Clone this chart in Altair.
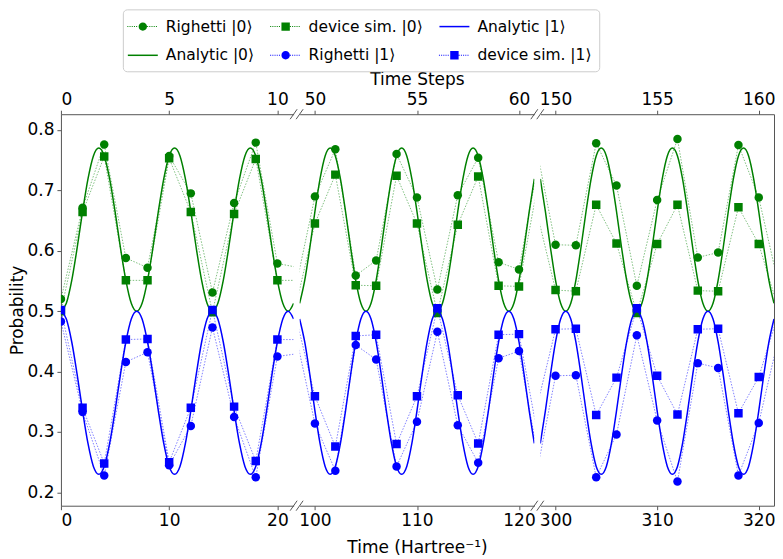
import altair as alt
import numpy as np
import pandas as pd

GREEN = "#008000"
BLUE = "#0000ff"
SPINE = "#555555"
TEXT = "#000000"
FONT = "DejaVu Sans"

NAMES = ["Righetti |0⟩", "Analytic |0⟩", "device sim. |0⟩",
         "Righetti |1⟩", "Analytic |1⟩", "device sim. |1⟩"]
COLORS = {"Righetti |0⟩": GREEN, "Analytic |0⟩": GREEN, "device sim. |0⟩": GREEN,
          "Righetti |1⟩": BLUE, "Analytic |1⟩": BLUE, "device sim. |1⟩": BLUE}
MARKERS = {"Righetti |0⟩": "circle", "device sim. |0⟩": "square",
           "Righetti |1⟩": "circle", "device sim. |1⟩": "square"}

Y_DOMAIN = [0.178, 0.826]
Y_TICKS = [0.2, 0.3, 0.4, 0.5, 0.6, 0.7, 0.8]
TIME_DOMAINS = [[0, 21.5], [98.5, 121.5], [298.5, 321.5]]
STEP_DOMAINS = [[0, 10.75], [49.25, 60.75], [149.25, 160.75]]
TIME_TICKS = [[0, 10, 20], [100, 110, 120], [300, 310, 320]]
STEP_TICKS = [[0, 5, 10], [50, 55, 60], [150, 155, 160]]
PANEL_WIDTHS = [233, 235, 234]

# ---- measured points (time in Hartree^-1) ----
T_P1 = [0, 2, 4, 6, 8, 10, 12, 14, 16, 18, 20, 22]
R0_P1 = [0.520, 0.671, 0.776, 0.588, 0.572, 0.757, 0.695, 0.531, 0.679, 0.779, 0.579, 0.572]
D0_P1 = [0.500, 0.664, 0.756, 0.551, 0.551, 0.753, 0.664, 0.498, 0.661, 0.752, 0.551, 0.551]
R1_P1 = [0.483, 0.333, 0.228, 0.416, 0.432, 0.245, 0.310, 0.473, 0.325, 0.225, 0.425, 0.430]
D1_P1 = [0.502, 0.340, 0.248, 0.453, 0.454, 0.250, 0.340, 0.502, 0.342, 0.252, 0.453, 0.453]

T_P2 = [98, 100, 102, 104, 106, 108, 110, 112, 114, 116, 118, 120, 122]
R0_P2 = [0.530, 0.690, 0.768, 0.559, 0.584, 0.760, 0.688, 0.536, 0.692, 0.754, 0.581, 0.569, 0.757]
D0_P2 = [0.500, 0.645, 0.726, 0.543, 0.542, 0.724, 0.645, 0.497, 0.643, 0.723, 0.542, 0.541, 0.724]
R1_P2 = [0.470, 0.314, 0.236, 0.444, 0.420, 0.243, 0.317, 0.466, 0.311, 0.249, 0.422, 0.434, 0.245]
D1_P2 = [0.500, 0.359, 0.276, 0.459, 0.461, 0.280, 0.359, 0.505, 0.361, 0.281, 0.461, 0.462, 0.280]

T_P3 = [298, 300, 302, 304, 306, 308, 310, 312, 314, 316, 318, 320, 322]
R0_P3 = [0.780, 0.610, 0.609, 0.778, 0.708, 0.542, 0.684, 0.785, 0.589, 0.597, 0.775, 0.688, 0.540]
D0_P3 = [0.675, 0.535, 0.533, 0.676, 0.612, 0.497, 0.611, 0.676, 0.534, 0.533, 0.672, 0.611, 0.500]
R1_P3 = [0.220, 0.393, 0.394, 0.225, 0.296, 0.460, 0.319, 0.218, 0.414, 0.406, 0.228, 0.315, 0.460]
D1_P3 = [0.330, 0.470, 0.471, 0.328, 0.390, 0.505, 0.393, 0.329, 0.470, 0.471, 0.331, 0.391, 0.500]

# ---- analytic curves, read every 0.5 time units ----
ANA_T_P1 = list(np.arange(0, 21.75, 0.5))
A0_P1 = [0.500, 0.513, 0.551, 0.605, 0.665, 0.719, 0.757, 0.770, 0.757, 0.719, 0.665, 0.605, 0.551, 0.513,
         0.500, 0.513, 0.551, 0.605, 0.665, 0.719, 0.757, 0.770, 0.757, 0.719, 0.665, 0.605, 0.551, 0.513,
         0.500, 0.513, 0.551, 0.605, 0.665, 0.719, 0.757, 0.770, 0.757, 0.719, 0.665, 0.605, 0.551, 0.513,
         0.500, 0.513]
A1_P1 = [0.500, 0.487, 0.449, 0.395, 0.335, 0.281, 0.243, 0.230, 0.243, 0.281, 0.335, 0.395, 0.449, 0.487,
         0.500, 0.487, 0.449, 0.395, 0.335, 0.281, 0.243, 0.230, 0.243, 0.281, 0.335, 0.395, 0.449, 0.487,
         0.500, 0.487, 0.449, 0.395, 0.335, 0.281, 0.243, 0.230, 0.243, 0.281, 0.335, 0.395, 0.449, 0.487,
         0.500, 0.487]

ANA_T_P2 = list(np.arange(98.5, 121.75, 0.5))
A0_P2 = [0.513, 0.551, 0.605, 0.665, 0.719, 0.757, 0.770, 0.757, 0.719, 0.665, 0.605, 0.551, 0.513,
         0.500, 0.513, 0.551, 0.605, 0.665, 0.719, 0.757, 0.770, 0.757, 0.719, 0.665, 0.605, 0.551, 0.513,
         0.500, 0.513, 0.551, 0.605, 0.665, 0.719, 0.757, 0.770, 0.757, 0.719, 0.665, 0.605, 0.551, 0.513,
         0.500, 0.513, 0.551, 0.605, 0.665, 0.719]
A1_P2 = [0.487, 0.449, 0.395, 0.335, 0.281, 0.243, 0.230, 0.243, 0.281, 0.335, 0.395, 0.449, 0.487,
         0.500, 0.487, 0.449, 0.395, 0.335, 0.281, 0.243, 0.230, 0.243, 0.281, 0.335, 0.395, 0.449, 0.487,
         0.500, 0.487, 0.449, 0.395, 0.335, 0.281, 0.243, 0.230, 0.243, 0.281, 0.335, 0.395, 0.449, 0.487,
         0.500, 0.487, 0.449, 0.395, 0.335, 0.281]

ANA_T_P3 = list(np.arange(298.5, 321.75, 0.5))
A0_P3 = [0.719, 0.665, 0.605, 0.551, 0.513,
         0.500, 0.513, 0.551, 0.605, 0.665, 0.719, 0.757, 0.770, 0.757, 0.719, 0.665, 0.605, 0.551, 0.513,
         0.500, 0.513, 0.551, 0.605, 0.665, 0.719, 0.757, 0.770, 0.757, 0.719, 0.665, 0.605, 0.551, 0.513,
         0.500, 0.513, 0.551, 0.605, 0.665, 0.719, 0.757, 0.770, 0.757, 0.719, 0.665, 0.605, 0.551, 0.513]
A1_P3 = [0.281, 0.335, 0.395, 0.449, 0.487,
         0.500, 0.487, 0.449, 0.395, 0.335, 0.281, 0.243, 0.230, 0.243, 0.281, 0.335, 0.395, 0.449, 0.487,
         0.500, 0.487, 0.449, 0.395, 0.335, 0.281, 0.243, 0.230, 0.243, 0.281, 0.335, 0.395, 0.449, 0.487,
         0.500, 0.487, 0.449, 0.395, 0.335, 0.281, 0.243, 0.230, 0.243, 0.281, 0.335, 0.395, 0.449, 0.487]

PANELS = [
    dict(t=T_P1, pts={"Righetti |0⟩": R0_P1, "device sim. |0⟩": D0_P1,
                      "Righetti |1⟩": R1_P1, "device sim. |1⟩": D1_P1},
         at=ANA_T_P1, ana={"Analytic |0⟩": A0_P1, "Analytic |1⟩": A1_P1}),
    dict(t=T_P2, pts={"Righetti |0⟩": R0_P2, "device sim. |0⟩": D0_P2,
                      "Righetti |1⟩": R1_P2, "device sim. |1⟩": D1_P2},
         at=ANA_T_P2, ana={"Analytic |0⟩": A0_P2, "Analytic |1⟩": A1_P2}),
    dict(t=T_P3, pts={"Righetti |0⟩": R0_P3, "device sim. |0⟩": D0_P3,
                      "Righetti |1⟩": R1_P3, "device sim. |1⟩": D1_P3},
         at=ANA_T_P3, ana={"Analytic |0⟩": A0_P3, "Analytic |1⟩": A1_P3}),
]


# ---- legend symbols (unit = 10 px, drawn centred 3 px right of the layout slot) ----
C = 0.3


def dotted(skip):
    parts = []
    x = -1.2
    while x <= 1.8001:
        if abs(x - C) > skip:
            a, b = x - 0.05, x + 0.05
            parts.append(f"M{a:.3f},-0.05L{b:.3f},-0.05L{b:.3f},0.05L{a:.3f},0.05Z")
        x += 0.22
    return "".join(parts)


R = 0.42
CIRCLE_SYM = dotted(0.45) + f"M{C+R},0A{R},{R},0,1,1,{C-R:.2f},0A{R},{R},0,1,1,{C+R},0Z"
SQUARE_SYM = dotted(0.45) + f"M{C-R:.2f},-{R}L{C+R},-{R}L{C+R},{R}L{C-R:.2f},{R}Z"
LINE_SYM = "M-1.2,-0.075L1.8,-0.075L1.8,0.075L-1.2,0.075Z"
SYMS = {"Righetti |0⟩": CIRCLE_SYM, "device sim. |0⟩": SQUARE_SYM, "Analytic |1⟩": LINE_SYM,
        "Analytic |0⟩": LINE_SYM, "Righetti |1⟩": CIRCLE_SYM, "device sim. |1⟩": SQUARE_SYM}
SLASH = "M-0.7,1L0.7,-1"


def make_panel(i):
    p = PANELS[i]
    xsc = alt.Scale(domain=TIME_DOMAINS[i], nice=False, zero=False)
    ysc = alt.Scale(domain=Y_DOMAIN, nice=False, zero=False)
    xaxis = alt.Axis(orient="bottom", values=TIME_TICKS[i], format="d", labelPadding=3, titlePadding=11,
                     title="Time (Hartree⁻¹)" if i == 1 else None)
    if i == 0:
        yaxis = alt.Axis(orient="left", values=Y_TICKS, format=".1f", title="Probability",
                         titlePadding=0, labelPadding=3)
    elif i == 2:
        yaxis = alt.Axis(orient="right", labels=False, ticks=False, title=None)
    else:
        yaxis = None
    X = alt.X("t:Q", scale=xsc, axis=xaxis)
    Y = alt.Y("v:Q", scale=ysc, axis=yaxis)

    layers = []
    for name in NAMES:
        col = COLORS[name]
        if name in p["ana"]:
            df = pd.DataFrame({"t": p["at"], "v": p["ana"][name]})
            layers.append(alt.Chart(df).mark_line(color=col, strokeWidth=1.5, clip=True,
                                                  interpolate="monotone").encode(x=X, y=Y))
        else:
            df = pd.DataFrame({"t": p["t"], "v": p["pts"][name]})
            base = alt.Chart(df)
            layers.append(base.mark_line(color=col, strokeWidth=1, strokeDash=[1.5, 1.5],
                                         opacity=0.5, clip=True).encode(x=X, y=Y))
            layers.append(base.mark_point(shape=MARKERS[name], filled=True, color=col, opacity=1,
                                          size=72, clip=True).encode(x=X, y=Y))

    # broken-axis marks at the panel edges
    edges = []
    if i > 0:
        edges.append(TIME_DOMAINS[i][0])
    if i < 2:
        edges.append(TIME_DOMAINS[i][1])
    brk = pd.DataFrame([(e, yv) for e in edges for yv in Y_DOMAIN], columns=["t", "v"])
    layers.append(alt.Chart(brk).mark_point(shape=SLASH, size=100, filled=False, color=SPINE,
                                            strokeWidth=1, opacity=1, clip=False).encode(x=X, y=Y))

    if i == 1:
        leg = alt.Legend(orient="none", legendX=-177, legendY=-105, columns=3, title=None,
                         symbolSize=400, symbolStrokeWidth=0, symbolOpacity=1,
                         labelFont=FONT, labelFontSize=15.5, labelColor=TEXT, labelLimit=0,
                         labelOffset=16, symbolOffset=0, padding=7, rowPadding=10,
                         columnPadding=15, fillColor="white", strokeColor="#cccccc",
                         cornerRadius=4)
        dummy = pd.DataFrame({"s": NAMES, "t": [0.0] * 6, "v": [0.0] * 6})
        layers.append(alt.Chart(dummy).transform_filter("false").mark_point(filled=True, opacity=1).encode(
            x=X, y=Y,
            color=alt.Color("s:N", scale=alt.Scale(domain=NAMES,
                                                   range=[COLORS[n] for n in NAMES]), legend=leg),
            shape=alt.Shape("s:N", scale=alt.Scale(domain=NAMES,
                                                   range=[SYMS[n] for n in NAMES]), legend=leg)))

    top_df = pd.DataFrame({"step": STEP_TICKS[i]})
    top = alt.Chart(top_df).mark_point(opacity=0).encode(
        x=alt.X("step:Q", scale=alt.Scale(domain=STEP_DOMAINS[i], nice=False, zero=False),
                axis=alt.Axis(orient="top", values=STEP_TICKS[i], format="d",
                              labelPadding=1.5, titlePadding=2,
                              title="Time Steps" if i == 1 else None)))

    return alt.layer(alt.layer(*layers), top).resolve_scale(x="independent").properties(
        width=PANEL_WIDTHS[i], height=392)


chart = alt.hconcat(make_panel(0), make_panel(1), make_panel(2), spacing=6, bounds="flush").resolve_scale(
    color="independent", shape="independent"
).properties(
    padding={"left": 0, "top": 0, "right": 0, "bottom": 0}
).configure_view(stroke=None).configure_axis(
    labelFont=FONT, titleFont=FONT, labelFontSize=17, titleFontSize=17, titleFontWeight="normal",
    labelColor=TEXT, titleColor=TEXT, domainColor=SPINE, tickColor=SPINE, domainWidth=1,
    tickWidth=1, tickSize=4, grid=False
)

chart.save("out.html", embed_options={"renderer": "svg", "actions": False})
